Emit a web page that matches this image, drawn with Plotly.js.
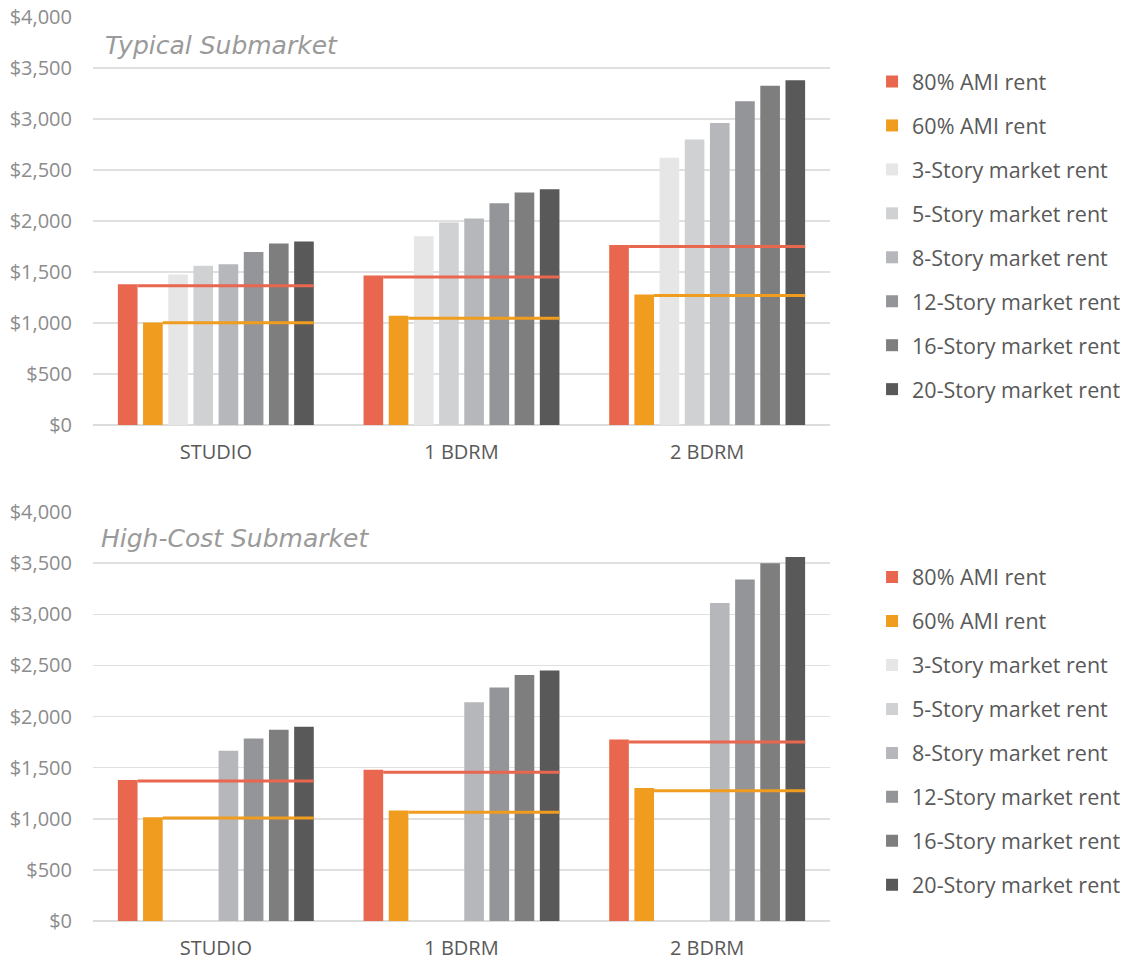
<!DOCTYPE html>
<html>
<head>
<meta charset="utf-8">
<script src="https://cdn.plot.ly/plotly-3.0.1.min.js"></script>
<style>html,body{margin:0;padding:0;background:#fff;}#chart{width:1138px;height:961px;}</style>
</head>
<body>
<div id="chart"></div>
<script>
// ---- Data ----
const categories = ['STUDIO', '1 BDRM', '2 BDRM'];
const seriesNames = ['80% AMI rent', '60% AMI rent', '3-Story market rent', '5-Story market rent',
  '8-Story market rent', '12-Story market rent', '16-Story market rent', '20-Story market rent'];
const seriesColors = ['#E9664F', '#F09C1F', '#E6E6E6', '#D0D1D2', '#B5B7BA', '#939599', '#7E7E7E', '#595959'];

// Typical submarket
const typ80 = [1380, 1465, 1765];
const typ60 = [1005, 1070, 1280];
const typ3 = [1475, 1850, 2620];
const typ5 = [1560, 1985, 2800];
const typ8 = [1575, 2025, 2960];
const typ12 = [1695, 2175, 3175];
const typ16 = [1780, 2280, 3325];
const typ20 = [1800, 2310, 3380];
const typLine80 = [1365, 1450, 1750];
const typLine60 = [1003, 1046, 1270];

// High-cost submarket
const high80 = [1380, 1480, 1775];
const high60 = [1015, 1080, 1300];
const high3 = [null, null, null];
const high5 = [null, null, null];
const high8 = [1665, 2140, 3110];
const high12 = [1785, 2285, 3340];
const high16 = [1870, 2405, 3500];
const high20 = [1900, 2450, 3560];
const highLine80 = [1370, 1455, 1750];
const highLine60 = [1008, 1063, 1275];

const tickVals = [0, 1, 2];
const yTicks = [0, 500, 1000, 1500, 2000, 2500, 3000, 3500, 4000];

// ---- Layout params ----
const BARGAP = 0.18, GROUPGAP = 0.22, NSER = seriesNames.length;
const slot = (1 - BARGAP) / NSER;
function barRightEdge(i, k) { return i - (1 - BARGAP) / 2 + slot * (k + 1) - slot * GROUPGAP / 2; }

const traces = [];
function addChart(seriesArr, line80, line60, xa, ya, legendName, grp) {
  seriesArr.forEach((vals, k) => {
    traces.push({
      type: 'bar', x: tickVals, y: vals, name: seriesNames[k],
      marker: {color: seriesColors[k]}, xaxis: xa, yaxis: ya,
      legend: legendName, legendgroup: grp + k, showlegend: true, hoverinfo: 'skip'
    });
  });
  [[line80, 0], [line60, 1]].forEach(([vals, k]) => {
    const xs = [], ys = [];
    vals.forEach((v, i) => {
      xs.push(barRightEdge(i, k), barRightEdge(i, NSER - 1), null);
      ys.push(v, v, null);
    });
    traces.push({
      type: 'scatter', mode: 'lines', x: xs, y: ys, xaxis: xa, yaxis: ya,
      line: {color: seriesColors[k], width: 3}, showlegend: false, hoverinfo: 'skip'
    });
  });
}
addChart([typ80, typ60, typ3, typ5, typ8, typ12, typ16, typ20], typLine80, typLine60, 'x', 'y', 'legend', 'a');
addChart([high80, high60, high3, high5, high8, high12, high16, high20], highLine80, highLine60, 'x2', 'y2', 'legend2', 'b');

const xAxisBase = {
  range: [-0.5, 2.5], tickvals: tickVals, ticktext: categories,
  tickfont: {family: 'Open Sans', size: 20, color: '#595959'},
  ticks: 'outside', ticklen: 9, tickcolor: 'rgba(0,0,0,0)',
  showgrid: false, zeroline: false, showline: false, fixedrange: true
};
const yAxisBase = {
  range: [0, 4000], tickvals: yTicks, tickformat: '$,.0f',
  tickfont: {family: 'Open Sans', size: 20, color: '#8C8C8C'},
  ticks: 'outside', ticklen: 16, tickcolor: 'rgba(0,0,0,0)',
  gridcolor: '#E0E0E0', gridwidth: 1.5, zeroline: true, zerolinecolor: '#DCDCDC', zerolinewidth: 1.5,
  showline: false, fixedrange: true
};
const legendBase = {
  font: {family: 'Open Sans', size: 21.5, color: '#595959'},
  xref: 'container', yref: 'container', x: 0.7663, xanchor: 'left', yanchor: 'top',
  tracegroupgap: 13, bgcolor: 'rgba(0,0,0,0)', traceorder: 'grouped'
};

const layout = {
  width: 1138, height: 961,
  margin: {l: 93, r: 308, t: 17, b: 40},
  paper_bgcolor: '#fff', plot_bgcolor: '#fff',
  barmode: 'group', bargap: BARGAP, bargroupgap: GROUPGAP,
  xaxis: Object.assign({}, xAxisBase, {anchor: 'y'}),
  yaxis: Object.assign({}, yAxisBase, {domain: [0.5487, 1], anchor: 'x'}),
  xaxis2: Object.assign({}, xAxisBase, {anchor: 'y2'}),
  yaxis2: Object.assign({}, yAxisBase, {domain: [0, 0.4524], anchor: 'x2'}),
  legend: Object.assign({}, legendBase, {y: 0.9365}),
  legend2: Object.assign({}, legendBase, {y: 0.4208}),
  showlegend: true,
  annotations: [
    {text: '<i>Typical Submarket</i>', xref: 'paper', yref: 'paper', x: 0.014, y: 0.969,
     xanchor: 'left', yanchor: 'middle', showarrow: false,
     font: {family: 'DejaVu Sans', size: 25, color: '#9A9A9A'}},
    {text: '<i>High-Cost Submarket</i>', xref: 'paper', yref: 'paper', x: 0.008, y: 0.423,
     xanchor: 'left', yanchor: 'middle', showarrow: false,
     font: {family: 'DejaVu Sans', size: 25, color: '#9A9A9A'}}
  ]
};

Plotly.newPlot('chart', traces, layout, {displayModeBar: false, staticPlot: true});
</script>
</body>
</html>
